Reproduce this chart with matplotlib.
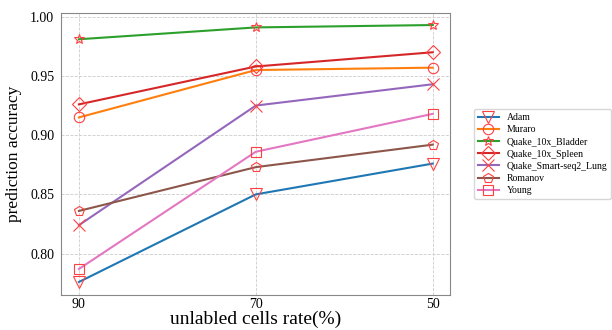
import matplotlib
matplotlib.use("Agg")
import matplotlib.pyplot as plt

plt.rcParams['font.family'] = ['Liberation Serif', 'DejaVu Serif']

rates = ['90', '70', '50']
names = ['Adam', 'Muraro', 'Quake_10x_Bladder', 'Quake_10x_Spleen',
         'Quake_Smart-seq2_Lung', 'Romanov', 'Young']
adam = [0.776, 0.850, 0.876]
muraro = [0.915, 0.955, 0.957]
bladder = [0.981, 0.991, 0.993]
spleen = [0.926, 0.958, 0.970]
lung = [0.824, 0.925, 0.943]
romanov = [0.836, 0.873, 0.892]
young = [0.787, 0.886, 0.918]
series = [adam, muraro, bladder, spleen, lung, romanov, young]
markers = ['v', 'o', '*', 'D', 'x', 'p', 's']
sizes = [8, 7.5, 7.5, 7.5, 8, 7, 7.5]

fig = plt.figure(figsize=(6.12, 3.30), dpi=100)
ax = fig.add_axes([0.1, 0.106, 0.636, 0.854])
x = list(range(len(rates)))
for i, (n, vals) in enumerate(zip(names, series)):
    ax.plot(x, vals, color='C%d' % i, lw=1.5, marker=markers[i], ms=sizes[i],
            mfc='none', mec='#ff4040', mew=0.8, label=n)

ax.set_xticks(x)
ax.set_xticklabels(rates)
ax.set_ylim(0.765, 1.003)
ax.set_yticks([0.80, 0.85, 0.90, 0.95, 1.00])
ax.tick_params(axis='x', labelsize=10, length=0, pad=2)
ax.tick_params(axis='y', labelsize=10, length=0, pad=5)
ax.grid(True, ls='--', lw=0.6, color='#cccccc')
for s in ax.spines.values():
    s.set_color('#888888')
ax.set_xlabel('unlabled cells rate(%)', fontsize=14, labelpad=0)
ax.set_ylabel('prediction accuracy', fontsize=12.5, labelpad=6)
ax.legend(loc='upper left', bbox_to_anchor=(1.06, 0.66), fontsize=7,
          handlelength=2.2, labelspacing=0.33, frameon=True, edgecolor='#cccccc',
          borderaxespad=0)

fig.savefig('out.png', dpi=100)
